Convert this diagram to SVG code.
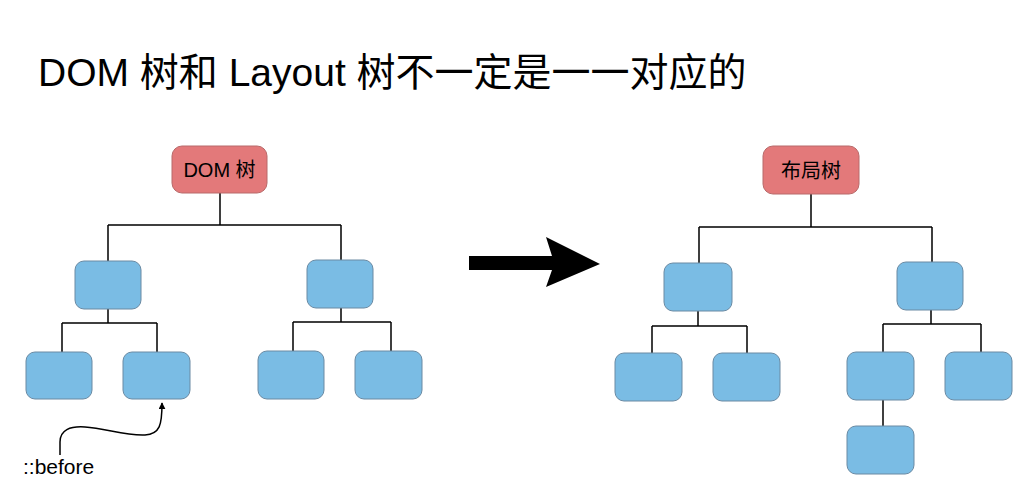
<svg xmlns="http://www.w3.org/2000/svg" width="1034" height="500" viewBox="0 0 1034 500">
<defs>
<style>
.root{fill:#e3797a;stroke:#b86a6a;stroke-width:1}
.box{fill:#7abce4;stroke:#6a8aa3;stroke-width:1}
.ln{fill:none;stroke:#000;stroke-width:1.5}
.lbl{font-family:"Liberation Sans","Noto Sans CJK SC",sans-serif;font-size:20px;fill:#000;text-anchor:middle}
</style>
<marker id="ah" viewBox="0 0 10 10" refX="9" refY="5" markerWidth="7" markerHeight="7" orient="auto" markerUnits="userSpaceOnUse">
<path d="M0,0 L10,5 L0,10 Z" fill="#000"/>
</marker>
</defs>
<rect width="1034" height="500" fill="#fff"/>
<text x="38" y="86" style="font-family:'Liberation Sans','Noto Sans CJK SC',sans-serif;font-size:39px;fill:#000">DOM 树和 Layout 树不一定是一一对应的</text>

<g id="connectors">
<path class="ln" d="M220,193 V225 M108,225 H341 M108,225 V261 M341,225 V260"/>
<path class="ln" d="M108,309 V323 M62,323 H157 M62,323 V352 M157,323 V352"/>
<path class="ln" d="M341,308 V322 M293,322 H391 M293,322 V351 M391,322 V351"/>
<path class="ln" d="M811,194 V227 M699,227 H932 M699,227 V263 M932,227 V262"/>
<path class="ln" d="M698,311 V326 M652,326 H747 M652,326 V353 M747,326 V353"/>
<path class="ln" d="M931,310 V324 M883,324 H981 M883,324 V352 M981,324 V352"/>
<path class="ln" d="M883,400 V426"/>
<path class="ln" d="M60,455 V442 C60,430 70,426 85,427 C105,428 125,436 145,435 C160,434 162,425 162,403" stroke-width="1.3" marker-end="url(#ah)"/>
<polygon points="469,256 552,256 546,237 600,264 546,287 552,270 469,270" fill="#000"/>
</g>

<g id="dom-root"><rect class="root" x="172" y="146" width="95" height="47" rx="10"/><text class="lbl" x="219.5" y="177">DOM 树</text></g>
<g id="dom-a"><rect class="box" x="75" y="261" width="66" height="48" rx="9"/></g>
<g id="dom-b"><rect class="box" x="307" y="260" width="66" height="48" rx="9"/></g>
<g id="dom-a1"><rect class="box" x="26" y="352" width="66" height="47" rx="9"/></g>
<g id="dom-a2"><rect class="box" x="123" y="352" width="67" height="47" rx="9"/></g>
<g id="dom-b1"><rect class="box" x="258" y="351" width="66" height="48" rx="9"/></g>
<g id="dom-b2"><rect class="box" x="355" y="351" width="67" height="48" rx="9"/></g>
<g id="before-label"><text x="23" y="474" style="font-family:'Liberation Sans',sans-serif;font-size:21px;fill:#000">::before</text></g>

<g id="layout-root"><rect class="root" x="763" y="146" width="96" height="48" rx="10"/><text class="lbl" x="811" y="178">布局树</text></g>
<g id="layout-a"><rect class="box" x="664" y="263" width="68" height="48" rx="9"/></g>
<g id="layout-b"><rect class="box" x="897" y="262" width="66" height="48" rx="9"/></g>
<g id="layout-a1"><rect class="box" x="615" y="353" width="67" height="48" rx="9"/></g>
<g id="layout-a2"><rect class="box" x="713" y="353" width="67" height="48" rx="9"/></g>
<g id="layout-b1"><rect class="box" x="847" y="352" width="67" height="48" rx="9"/></g>
<g id="layout-b2"><rect class="box" x="945" y="352" width="67" height="48" rx="9"/></g>
<g id="layout-b1a"><rect class="box" x="847" y="426" width="67" height="48" rx="9"/></g>
</svg>
